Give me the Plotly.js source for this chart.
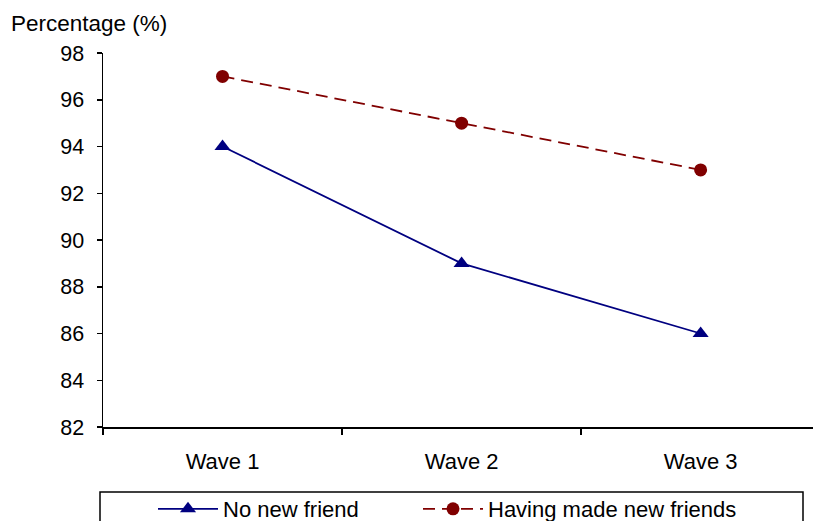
<!DOCTYPE html>
<html>
<head>
<meta charset="utf-8">
<script src="https://cdn.plot.ly/plotly-3.0.1.min.js"></script>
<style>html,body{margin:0;padding:0;background:#fff;}#chart{width:813px;height:521px;}</style>
</head>
<body>
<div id="chart"></div>
<script>
var waves = ["Wave 1", "Wave 2", "Wave 3"];
var noNewFriend = [94, 89, 86];
var madeNewFriends = [97, 95, 93];
var seriesNames = ["No new friend", "Having made new friends"];
var yTitle = "Percentage (%)";

var FONT = "Liberation Sans, Arial, sans-serif";
var W = 813, H = 521, L = 103, T = 53, B = 94, R = 0;
var pw = W - L - R, ph = H - T - B;
function px2x(p){ return (p - L) / pw; }
function px2y(p){ return (H - B - p) / ph; }

var traces = [
  {x: waves, y: noNewFriend, name: seriesNames[0], type: "scatter", mode: "lines+markers",
   line: {color: "#000080", width: 1.8}, marker: {symbol: "triangle-up", size: 14, color: "#000080"},
   legend: "legend"},
  {x: waves, y: madeNewFriends, name: seriesNames[1], type: "scatter", mode: "lines+markers",
   line: {color: "#800000", width: 1.8, dash: "12px,7px"}, marker: {symbol: "circle", size: 13, color: "#800000"},
   legend: "legend2"}
];

var layout = {
  width: W, height: H,
  margin: {l: L, r: R, t: T, b: B, autoexpand: false},
  paper_bgcolor: "#fff", plot_bgcolor: "#fff",
  font: {family: FONT, size: 21, color: "#000"},
  showlegend: true,
  xaxis: {type: "category", range: [-0.5, 2.47], showgrid: false, zeroline: false,
    showline: true, linecolor: "#000", linewidth: 1.5, ticks: "outside", tickson: "boundaries",
    ticklen: 6, tickwidth: 1.5, tickcolor: "#000", ticklabelstandoff: 14,
    tickfont: {family: FONT, size: 22, color: "#000"}},
  yaxis: {range: [82, 98], dtick: 2, tick0: 82, showgrid: false, zeroline: false,
    showline: true, linecolor: "#000", linewidth: 1.5, ticks: "outside", ticklen: 5,
    tickwidth: 1.5, tickcolor: "#000", ticklabelstandoff: 8,
    tickfont: {family: FONT, size: 21.5, color: "#000"}},
  legend: {orientation: "h", x: px2x(153), xanchor: "left", y: px2y(509), yanchor: "middle",
    itemwidth: 60, bgcolor: "rgba(0,0,0,0)", borderwidth: 0,
    font: {family: FONT, size: 22, color: "#000"}},
  legend2: {orientation: "h", x: px2x(418), xanchor: "left", y: px2y(509), yanchor: "middle",
    itemwidth: 60, bgcolor: "rgba(0,0,0,0)", borderwidth: 0,
    font: {family: FONT, size: 22, color: "#000"}},
  shapes: [{type: "rect", xref: "paper", yref: "paper",
    x0: px2x(100), x1: px2x(803), y0: px2y(492), y1: px2y(540),
    line: {color: "#000", width: 1.5}, fillcolor: "rgba(0,0,0,0)", layer: "below"}],
  annotations: [{text: yTitle, xref: "paper", yref: "paper", x: px2x(9), y: px2y(24),
    xanchor: "left", yanchor: "middle", showarrow: false,
    font: {family: FONT, size: 22.5, color: "#000"}}]
};

Plotly.newPlot("chart", traces, layout, {displayModeBar: false, staticPlot: true});
</script>
</body>
</html>
